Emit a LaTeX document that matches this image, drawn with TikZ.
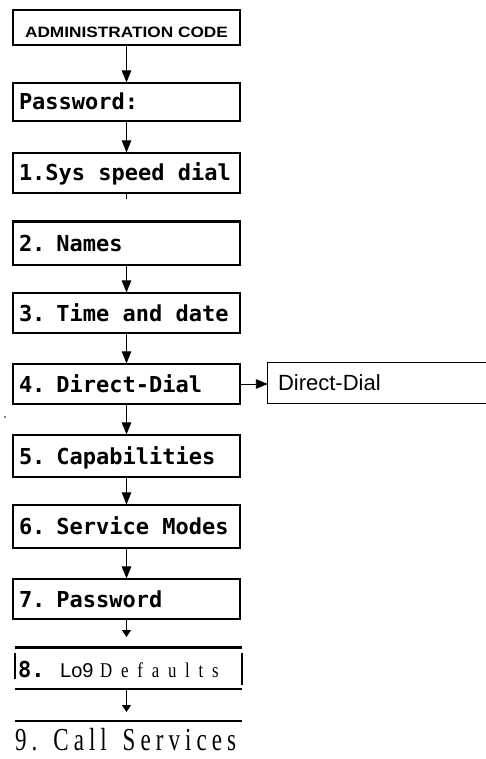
\documentclass[tikz,border=0pt]{standalone}
\usepackage{fontspec}
\usetikzlibrary{arrows.meta}
\newfontfamily\lcdfont{DejaVu Sans Mono}
\newfontfamily\helfont{Liberation Sans}
\newfontfamily\tmsfont{Liberation Serif}
\makeatletter
\def\spacedtext#1#2{\def\sp@k{#1}\sp@loop#2\relax}
\def\sp@loop#1{\ifx#1\relax\else#1\kern\sp@k\expandafter\sp@loop\fi}
\makeatother
\newcommand\lcdsel{\lcdfont\bfseries\fontsize{22}{26}\selectfont}
\begin{document}
\begin{tikzpicture}[x=1pt,y=-1pt,
  box/.style={draw, line width=1.2pt, inner xsep=6pt, inner ysep=0pt,
    text width=215pt, align=left, text height=16pt, text depth=0pt,
    font=\lcdsel, execute at begin node={\spaceskip=0.602em\relax}},
  headbox/.style={draw, line width=1.2pt, inner sep=0pt, minimum width=227pt,
    text height=19.5pt, text depth=0pt,
    font=\helfont\bfseries\fontsize{15}{17}\selectfont},
  link/.style={line width=0.9pt, -{Triangle[length=12pt,width=9.5pt]}},
  linksmall/.style={line width=0.9pt, -{Triangle[length=7pt,width=9pt]}},
  thickrule/.style={line width=3pt},
]
\useasboundingbox (0,0) rectangle (486,759);

\node[headbox, minimum height=35pt] (admin) at (126.5,27.5)
  {\scalebox{1.15}[1]{ADMINISTRATION CODE}};
\node[box, minimum height=38pt] (pw) at (126.5,102) {Password:};
\node[box, minimum height=40pt] (b1) at (126.5,173) {1.Sys speed dial};
\node[box, minimum height=43pt] (b2) at (126.5,243.5) {2. Names};
\node[box, minimum height=40pt] (b3) at (126.5,313) {3. Time and date};
\node[box, minimum height=40pt] (b4) at (126.5,384) {4. Direct-Dial};
\node[box, minimum height=42pt] (b5) at (126.5,456) {5. Capabilities};
\node[box, minimum height=43pt] (b6) at (126.5,526.5) {6. Service Modes};
\node[box, minimum height=40pt] (b7) at (126.5,599) {7. Password};

% Direct-Dial side box
\node[inner xsep=10pt, inner ysep=0pt, text width=198pt, align=left,
  minimum height=40pt, text height=15.8pt, text depth=0pt,
  font=\helfont\fontsize{22}{26}\selectfont] (dd) at (377,383) {Direct-Dial};
\draw[line width=1.2pt] (dd.north east) -- (dd.north west) -- (dd.south west) -- (dd.south east);

% box 8
\node[minimum width=227pt, minimum height=41pt, inner sep=0pt] (b8) at (128.5,668.5) {};
\draw[thickrule] (b8.north west) -- (b8.north east);
\draw[line width=2.5pt] (b8.south west) -- (b8.south east);
\draw[line width=1.5pt] ([yshift=-5pt]b8.north west) -- ([yshift=-31pt]b8.north west);
\draw[line width=1.5pt] ([yshift=-5pt]b8.north east) -- ([yshift=-37pt]b8.north east);
\node[anchor=base west, inner sep=0pt, font=\lcdsel] (t8) at (18,677) {8.};
\node[anchor=base west, inner sep=0pt, font=\helfont\fontsize{20}{24}\selectfont] (tlo) at (60,677) {Lo9};
\node[anchor=base west, inner sep=0pt, font=\tmsfont\fontsize{21}{24}\selectfont] (tdef) at (100,677)
  {\scalebox{0.8}[1]{\spacedtext{11pt}{Defaults}}};

% line and item 9
\coordinate (l1) at (15,721);
\coordinate (l2) at (242,721);
\draw[line width=2.5pt] (l1) -- (l2);
\node[anchor=base west, inner sep=0pt, font=\tmsfont\fontsize{32}{36}\selectfont] (b9) at (15,750)
  {\scalebox{0.72}[1]{\spacedtext{7pt}{9.~Call~Services}}};

% thick rule over 2. Names
\draw[thickrule] (b2.north west) -- (b2.north east);

% connectors
\draw[link] (admin) -- (pw);
\draw[link] (pw) -- (b1);
\coordinate (ctick) at (126.5,199);
\draw[line width=1pt] (b1.south) -- (ctick);
\draw[link] (b2) -- (b3);
\draw[link] (b3) -- (b4);
\draw[link] (b4.east) -- (b4.east -| dd.west);
\draw[link] (b4) -- (b5);
\draw[link] (b5) -- (b6);
\draw[link] (b6) -- (b7);
\coordinate (jend) at (126.5,637);
\draw[linksmall] (b7.south) -- (jend);
\coordinate (kend) at (126.5,712);
\draw[linksmall] (kend |- b8.south) -- (kend);

% speck
\fill (5,417) circle (0.9pt);
\end{tikzpicture}
\end{document}
